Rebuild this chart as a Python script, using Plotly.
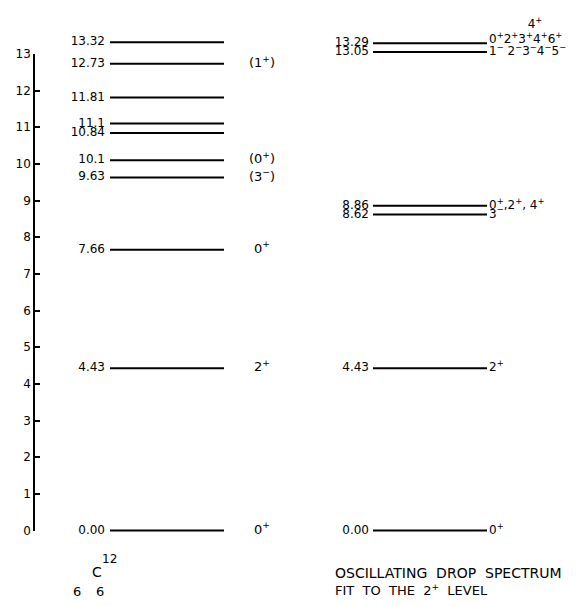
import plotly.graph_objects as go

# ---- data ----
c12_energy = [0.00, 4.43, 7.66, 9.63, 10.1, 10.84, 11.1, 11.81, 12.73, 13.32]
c12_value_text = ["0.00", "4.43", "7.66", "9.63", "10.1", "10.84", "11.1", "11.81", "12.73", "13.32"]
c12_spin = ["0<sup>+</sup>", "2<sup>+</sup>", "0<sup>+</sup>", "(3<sup>−</sup>)", "(0<sup>+</sup>)",
            "", "", "", "(1<sup>+</sup>)", ""]

od_energy = [0.00, 4.43, 8.62, 8.86, 13.05, 13.29]
od_value_text = ["0.00", "4.43", "8.62", "8.86", "13.05", "13.29"]
od_spin = ["0<sup>+</sup>", "2<sup>+</sup>", "3<sup>−</sup>", "0<sup>+</sup>,2<sup>+</sup>, 4<sup>+</sup>",
           "1<sup>−</sup> 2<sup>−</sup>3<sup>−</sup>4<sup>−</sup>5<sup>−</sup>",
           "0<sup>+</sup>2<sup>+</sup>3<sup>+</sup>4<sup>+</sup>6<sup>+</sup>"]
extra_spin_energy = [13.29]
extra_spin_text = ["4<sup>+</sup>"]

axis_ticks = list(range(0, 14))

# ---- layout constants (pixels) ----
W, H = 583, 606
PX_PER_MEV = 37.54
Y0_PX = 536  # pixel row of E=0
y_top = Y0_PX / PX_PER_MEV
y_bot = -(H - Y0_PX) / PX_PER_MEV

FONT = "DejaVu Sans"
fs = 12

def seg(energies, x0, x1):
    xs, ys = [], []
    for e in energies:
        xs += [x0, x1, None]
        ys += [e, e, None]
    return xs, ys

fig = go.Figure()

# C12 levels
xs, ys = seg(c12_energy, 110, 224)
fig.add_trace(go.Scatter(x=xs, y=ys, mode="lines", line=dict(color="black", width=2),
                         hoverinfo="skip", showlegend=False))
fig.add_trace(go.Scatter(x=[105] * len(c12_energy), y=c12_energy, mode="text", text=c12_value_text,
                         textposition="middle left", textfont=dict(family=FONT, size=fs, color="black"),
                         cliponaxis=False, hoverinfo="skip", showlegend=False))
fig.add_trace(go.Scatter(x=[262] * len(c12_energy), y=c12_energy, mode="text", text=c12_spin,
                         textposition="middle center", textfont=dict(family=FONT, size=13, color="black"),
                         cliponaxis=False, hoverinfo="skip", showlegend=False))

# Oscillating drop levels
xs, ys = seg(od_energy, 373, 487)
fig.add_trace(go.Scatter(x=xs, y=ys, mode="lines", line=dict(color="black", width=2),
                         hoverinfo="skip", showlegend=False))
fig.add_trace(go.Scatter(x=[369] * len(od_energy), y=od_energy, mode="text", text=od_value_text,
                         textposition="middle left", textfont=dict(family=FONT, size=fs, color="black"),
                         cliponaxis=False, hoverinfo="skip", showlegend=False))
# nudge the crowded top label slightly upward, as in the reference
spin_y = [e + (0.1 if i == len(od_energy) - 1 else 0) for i, e in enumerate(od_energy)]
fig.add_trace(go.Scatter(x=[489] * len(od_energy), y=spin_y, mode="text", text=od_spin,
                         textposition="middle right", textfont=dict(family=FONT, size=12, color="black"),
                         cliponaxis=False, hoverinfo="skip", showlegend=False))
fig.add_trace(go.Scatter(x=[535] * len(extra_spin_energy), y=[e + 0.5 for e in extra_spin_energy],
                         mode="text", text=extra_spin_text,
                         textposition="middle center", textfont=dict(family=FONT, size=12, color="black"),
                         cliponaxis=False, hoverinfo="skip", showlegend=False))

# invisible trace to carry the visible energy scale axis
fig.add_trace(go.Scatter(x=[34, 34], y=[axis_ticks[0], axis_ticks[-1]], yaxis="y2", mode="markers",
                         marker=dict(opacity=0), hoverinfo="skip", showlegend=False))

def py(px):
    return 1 - px / H

annots = [
    dict(x=97, y=py(578), text="C", size=14),
    dict(x=109, y=py(565), text="12", size=12),
    dict(x=77, y=py(598), text="6", size=13),
    dict(x=100, y=py(598), text="6", size=13),
    dict(x=333, y=py(579), text="OSCILLATING  DROP  SPECTRUM", xanchor="left", size=14),
    dict(x=333, y=py(597), text="FIT  TO  THE  2<sup>+</sup>  LEVEL", xanchor="left", size=13),
]
for a in annots:
    fig.add_annotation(xref="x", yref="paper", showarrow=False,
                       font=dict(family=FONT, size=a["size"], color="black"),
                       xanchor=a.get("xanchor", "center"), yanchor="middle",
                       x=a["x"], y=a["y"], text=a["text"])

fig.update_layout(
    width=W, height=H, autosize=False,
    margin=dict(l=0, r=0, t=0, b=0),
    paper_bgcolor="white", plot_bgcolor="rgba(0,0,0,0)",
    xaxis=dict(range=[0, W], visible=False, fixedrange=True),
    yaxis=dict(range=[y_bot, y_top], visible=False, fixedrange=True),
    yaxis2=dict(range=[0, 13], domain=[(H - Y0_PX) / H, (H - Y0_PX + 13 * PX_PER_MEV) / H],
                anchor="free", position=34 / W, side="left",
                showline=True, linecolor="black", linewidth=1.5,
                ticks="inside", ticklen=5, tickwidth=1.5, tickcolor="black",
                tickvals=axis_ticks, ticktext=[str(t) for t in axis_ticks],
                tickfont=dict(family=FONT, size=fs, color="black"),
                showgrid=False, zeroline=False, fixedrange=True),
    showlegend=False,
)

fig.write_html("out.html", config={"displayModeBar": False},
               post_script="document.body.style.margin='0';")
